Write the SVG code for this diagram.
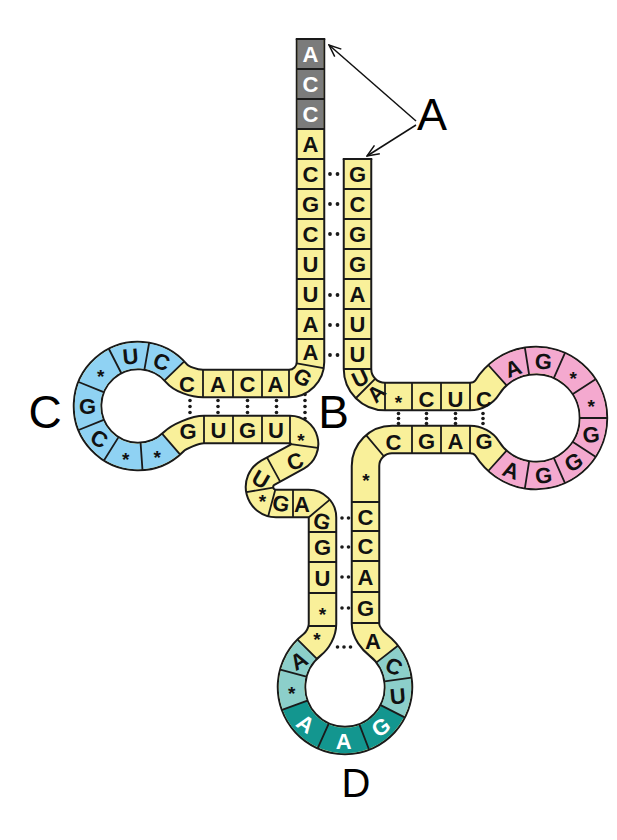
<svg xmlns="http://www.w3.org/2000/svg" width="617" height="840" viewBox="0 0 617 840">
<defs>
<style>
.bk{fill:none;stroke:#1a1a1a;stroke-width:29.5;stroke-linejoin:round}
.ye{fill:none;stroke:#f9f09a;stroke-width:25.5;stroke-linejoin:round}
.gr{fill:none;stroke:#7b7b7b;stroke-width:25.5}
.bl{fill:none;stroke:#8fd2f3;stroke-width:25.5}
.pk{fill:none;stroke:#f4a9cf;stroke-width:25.5}
.lt{fill:none;stroke:#8ccfca;stroke-width:25.5}
.dt{fill:none;stroke:#13968f;stroke-width:25.5}
.ln{fill:none;stroke:#1a1a1a;stroke-width:1.8}
.t{font-family:"Liberation Sans",Arial,sans-serif;font-weight:bold;font-size:22px;text-anchor:middle;fill:#111}
.s{font-family:"Liberation Sans",Arial,sans-serif;font-weight:bold;font-size:19px;text-anchor:middle;fill:#111}
.w{fill:#fff}
.big{font-family:"Liberation Sans",Arial,sans-serif;font-size:45px;text-anchor:middle;fill:#000}
.dot{fill:#1a1a1a}
.ar{stroke:#111;stroke-width:1.5;fill:none}
</style>
<marker id="ah" viewBox="0 0 14 12" refX="13" refY="6" markerWidth="14" markerHeight="12" markerUnits="userSpaceOnUse" orient="auto">
<path d="M1,1 L13,6 L1,11" fill="none" stroke="#111" stroke-width="1.5"/>
</marker>
</defs>
<rect width="617" height="840" fill="#fff"/>

<g id="backbone">
<path id="strand" class="bk" d="M357.5 159 V369 A27.5 27.5 0 0 0 385 396.5 H470 C477 396.5 484 392.6 487.2 387.5 A57.5 57.5 0 1 1 487.2 448.5 C484 443.4 477 439.5 470 439.5 H392 A26.5 26.5 0 0 0 365.5 466 V624 C365.5 632 372.4 640.5 377.9 644.8 A53.5 53.5 0 1 1 312.1 644.8 C317.6 640.5 322.5 632 322.5 624 V517.5 A14 14 0 0 0 308.5 503.5 H276 A16.5 16.5 0 0 1 267.75 472.7 L297.25 456.6 A14.5 14.5 0 0 0 290 429.5 H204 C195 429.5 178.65 436.75 173.7 441.7 A50.5 50.5 0 1 1 176.7 373.5 C181.2 378.9 194 383.5 203 383.5 H289 A21.5 21.5 0 0 0 310.5 362 V39"/>
<path class="ye" d="M357.5 159 V369 A27.5 27.5 0 0 0 385 396.5 H470 C477 396.5 484 392.6 487.2 387.5 A57.5 57.5 0 1 1 487.2 448.5 C484 443.4 477 439.5 470 439.5 H392 A26.5 26.5 0 0 0 365.5 466 V624 C365.5 632 372.4 640.5 377.9 644.8 A53.5 53.5 0 1 1 312.1 644.8 C317.6 640.5 322.5 632 322.5 624 V517.5 A14 14 0 0 0 308.5 503.5 H276 A16.5 16.5 0 0 1 267.75 472.7 L297.25 456.6 A14.5 14.5 0 0 0 290 429.5 H204 C195 429.5 178.65 436.75 173.7 441.7 A50.5 50.5 0 1 1 176.7 373.5 C181.2 378.9 194 383.5 203 383.5 H289 A21.5 21.5 0 0 0 310.5 362 V39"/>
</g>

<g id="acceptor-stem">
<path class="gr" d="M310.5 129 V39"/>
<path class="ln" d="M295.75 39 H325.25 M297 69 H324 M297 99 H324 M297 129 H324 M297 159 H324 M297 189 H324 M297 219 H324 M297 249 H324 M297 279 H324 M297 309 H324 M297 339 H324 M296.9 363.4 L323.5 368.1 M289 370 V397"/>
<path class="ln" d="M342.75 159 H372.25 M344 189 H371 M344 219 H371 M344 249 H371 M344 279 H371 M344 309 H371 M344 339 H371 M344 369 H371 M375.1 378.9 L356 398"/>
<text class="t w" x="310.5" y="62">A</text>
<text class="t w" x="310.5" y="92">C</text>
<text class="t w" x="310.5" y="122">C</text>
<text class="t" x="310.5" y="152">A</text>
<text class="t" x="310.5" y="182">C</text>
<text class="t" x="310.5" y="212">G</text>
<text class="t" x="310.5" y="242">C</text>
<text class="t" x="310.5" y="272">U</text>
<text class="t" x="310.5" y="302">U</text>
<text class="t" x="310.5" y="332">A</text>
<text class="t" x="310.5" y="360">A</text>
<text class="t" x="303" y="385" transform="rotate(30 303 377)">G</text>
<text class="t" x="357.5" y="182">G</text>
<text class="t" x="357.5" y="212">C</text>
<text class="t" x="357.5" y="242">G</text>
<text class="t" x="357.5" y="272">G</text>
<text class="t" x="357.5" y="302">A</text>
<text class="t" x="357.5" y="332">U</text>
<text class="t" x="357.5" y="362">U</text>
<text class="t" x="360" y="386" transform="rotate(-25 360 378)">U</text>
<text class="t" x="376" y="401" transform="rotate(-45 376 393)">A</text>
<g class="dot">
<circle cx="330" cy="174" r="1.9"/><circle cx="337.5" cy="174" r="1.9"/>
<circle cx="330" cy="204" r="1.9"/><circle cx="337.5" cy="204" r="1.9"/>
<circle cx="330" cy="234" r="1.9"/><circle cx="337.5" cy="234" r="1.9"/>
<circle cx="330" cy="295" r="1.9"/><circle cx="337.5" cy="295" r="1.9"/>
<circle cx="330" cy="325" r="1.9"/><circle cx="337.5" cy="325" r="1.9"/>
<circle cx="330" cy="355" r="1.9"/><circle cx="337.5" cy="355" r="1.9"/>
</g>
</g>

<g id="d-arm">
<path class="bl" d="M171.13 444.11 A50.5 50.5 0 1 1 174.33 370.92"/>
<path class="ln" d="M262 370 V397 M233 370 V397 M203 370 V397 M164.62 380.3 L184.04 361.54 M144.42 369.56 L149.11 342.97 M121.2 373.03 L108.94 348.98 M103.69 392.14 L78.66 382.03 M103.69 419.86 L78.66 429.97 M118.39 437.38 L104.09 460.27 M140.58 442.91 L142.47 469.85 M162.27 433.92 L179.99 454.3 M204 416 V443 M233 416 V443 M262 416 V443 M290 416 V443"/>
<text class="t" x="275.5" y="392">A</text>
<text class="t" x="247.5" y="392">C</text>
<text class="t" x="218" y="392">A</text>
<text class="t" x="187" y="392">C</text>
<text class="t" x="161.7" y="369.4" transform="rotate(20 161.7 361.4)">C</text>
<text class="t" x="130.5" y="364.1" transform="rotate(-5 130.5 356.1)">U</text>
<text class="s" x="100.8" y="383">*</text>
<text class="t" x="87.5" y="414">G</text>
<text class="t" x="99.3" y="446.5" transform="rotate(30 99.3 438.5)">C</text>
<text class="s" x="125.8" y="466">*</text>
<text class="s" x="157.3" y="463.8">*</text>
<text class="t" x="188" y="439">G</text>
<text class="t" x="218.5" y="438">U</text>
<text class="t" x="247.5" y="438">G</text>
<text class="t" x="276" y="438">U</text>
<g class="dot">
<circle cx="190" cy="400.5" r="1.8"/><circle cx="190" cy="406.5" r="1.8"/><circle cx="190" cy="412.5" r="1.8"/>
<circle cx="218" cy="400.5" r="1.8"/><circle cx="218" cy="406.5" r="1.8"/><circle cx="218" cy="412.5" r="1.8"/>
<circle cx="247.5" cy="400.5" r="1.8"/><circle cx="247.5" cy="406.5" r="1.8"/><circle cx="247.5" cy="412.5" r="1.8"/>
<circle cx="276.5" cy="400.5" r="1.8"/><circle cx="276.5" cy="406.5" r="1.8"/><circle cx="276.5" cy="412.5" r="1.8"/>
<circle cx="305" cy="394.5" r="1.8"/><circle cx="305" cy="400.5" r="1.8"/><circle cx="305" cy="406.5" r="1.8"/><circle cx="305" cy="412.5" r="1.8"/><circle cx="305" cy="418.5" r="1.8"/>
</g>
</g>

<g id="variable-loop">
<path class="ln" d="M291 444.1 L317.7 447.9 M267.08 457.68 L280.02 481.38 M273.05 487.52 L246.46 492.21 M275.22 489.9 L268.24 515.98 M293 490 V517 M308.9 517.2 L329.57 499.82"/>
<text class="s" x="301" y="447">*</text>
<text class="t" x="295" y="469" transform="rotate(-20 295 461)">C</text>
<text class="t" x="261" y="487" transform="rotate(30 261 479)">U</text>
<text class="s" x="262.5" y="507.5">*</text>
<text class="t" x="281" y="511" transform="rotate(10 281 503)">G</text>
<text class="t" x="302" y="512">A</text>
</g>

<g id="t-arm">
<path class="pk" d="M497.53 375.27 A57.5 57.5 0 1 1 497.53 460.73"/>
<path class="ln" d="M385 383 V410 M412 383 V410 M441 383 V410 M470 383 V410 M506.56 385.3 L488.49 365.24 M529.12 374.54 L524.89 347.87 M553.9 377.81 L564.88 353.14 M572.9 394.04 L595.55 379.33 M580 418 H607 M572.9 441.96 L595.55 456.67 M553.9 458.19 L564.88 482.86 M529.12 461.46 L524.89 488.13 M506.56 450.7 L488.49 470.76 M470 426 V453 M441 426 V453 M412 426 V453 M383.64 456.04 L366.29 435.36"/>
<text class="s" x="398.5" y="408.5">*</text>
<text class="t" x="426.5" y="406.5">C</text>
<text class="t" x="455.5" y="406.5">U</text>
<text class="t" x="484" y="406.5">C</text>
<text class="t" x="513" y="376" transform="rotate(-20 513 368)">A</text>
<text class="t" x="543.5" y="369" transform="rotate(5 543.5 361)">G</text>
<text class="s" x="573.3" y="385.4">*</text>
<text class="s" x="591.1" y="412.8">*</text>
<text class="t" x="591.1" y="442.3" transform="rotate(-5 591.1 434.3)">G</text>
<text class="t" x="573.3" y="469.7" transform="rotate(-30 573.3 461.7)">G</text>
<text class="t" x="543.5" y="483" transform="rotate(-5 543.5 475)">G</text>
<text class="t" x="511.2" y="477.9" transform="rotate(20 511.2 469.9)">A</text>
<text class="t" x="484" y="448.5">G</text>
<text class="t" x="455.5" y="448.5">A</text>
<text class="t" x="426.5" y="448.5">G</text>
<text class="t" x="393.5" y="450">C</text>
<g class="dot">
<circle cx="398.5" cy="413.5" r="1.8"/><circle cx="398.5" cy="418.5" r="1.8"/><circle cx="398.5" cy="423.5" r="1.8"/>
<circle cx="426.5" cy="413.5" r="1.8"/><circle cx="426.5" cy="418.5" r="1.8"/><circle cx="426.5" cy="423.5" r="1.8"/>
<circle cx="455.5" cy="413.5" r="1.8"/><circle cx="455.5" cy="418.5" r="1.8"/><circle cx="455.5" cy="423.5" r="1.8"/>
<circle cx="483" cy="413.5" r="1.8"/><circle cx="483" cy="418.5" r="1.8"/><circle cx="483" cy="423.5" r="1.8"/>
</g>
</g>

<g id="anticodon-arm">
<path class="lt" d="M387.16 654.06 A53.5 53.5 0 0 1 392.67 711.29"/>
<path class="dt" d="M392.67 711.29 A53.5 53.5 0 0 1 294.73 705.3"/>
<path class="lt" d="M294.73 705.3 A53.5 53.5 0 0 1 307.17 649.17"/>
<path class="ln" d="M352 502 H379 M352 531 H379 M352 561 H379 M352 592 H379 M352 623 H379 M309 532 H336 M309 562 H336 M309 593 H336 M309 626 H336 M376.52 662.37 L397.8 645.75 M384.61 681.43 L411.35 677.67 M380.64 705.16 L404.7 717.42 M359.34 724.34 L369.01 749.55 M328.73 723.54 L317.75 748.21 M307.41 700.68 L282.04 709.91 M306.36 676.65 L280.28 669.66 M316.72 658.72 L297.63 639.63"/>
<text class="s" x="366" y="487">*</text>
<text class="t" x="365.5" y="524.5">C</text>
<text class="t" x="365.5" y="554">C</text>
<text class="t" x="365.5" y="584.5">A</text>
<text class="t" x="365.5" y="615.5">G</text>
<text class="t" x="373" y="649">A</text>
<text class="t" x="394.2" y="674.1" transform="rotate(25 394.2 666.1)">C</text>
<text class="t" x="397.8" y="703.8" transform="rotate(-5 397.8 695.8)">U</text>
<text class="t w" x="380.8" y="734.8" transform="rotate(-35 380.8 726.8)">G</text>
<text class="t w" x="343.6" y="748.5">A</text>
<text class="t w" x="305.9" y="731.5" transform="rotate(35 305.9 723.5)">A</text>
<text class="s" x="291.6" y="700.4">*</text>
<text class="t" x="298.7" y="668.3" transform="rotate(-30 298.7 660.3)">A</text>
<text class="s" x="317" y="646">*</text>
<text class="s" x="322.5" y="620.5">*</text>
<text class="t" x="322.5" y="585.5">U</text>
<text class="t" x="322.5" y="555">G</text>
<text class="t" x="322" y="529" transform="rotate(15 322 521)">G</text>
<g class="dot">
<circle cx="342" cy="518" r="1.8"/><circle cx="348.5" cy="518" r="1.8"/>
<circle cx="342" cy="547" r="1.8"/><circle cx="348.5" cy="547" r="1.8"/>
<circle cx="342" cy="577" r="1.8"/><circle cx="348.5" cy="577" r="1.8"/>
<circle cx="342" cy="608" r="1.8"/><circle cx="348.5" cy="608" r="1.8"/>
<circle cx="337.5" cy="647" r="1.8"/><circle cx="344" cy="647" r="1.8"/><circle cx="350.5" cy="647" r="1.8"/>
</g>
</g>

<g id="labels">
<text class="big" x="432" y="130">A</text>
<text class="big" x="333.5" y="428" style="font-size:46px">B</text>
<text class="big" x="45" y="428" style="font-size:46px">C</text>
<text class="big" x="356" y="797" style="font-size:40px">D</text>
</g>

<g id="connectors">
<line class="ar" x1="416" y1="121" x2="329" y2="45" marker-end="url(#ah)"/>
<line class="ar" x1="416" y1="125" x2="367" y2="156" marker-end="url(#ah)"/>
</g>
</svg>
